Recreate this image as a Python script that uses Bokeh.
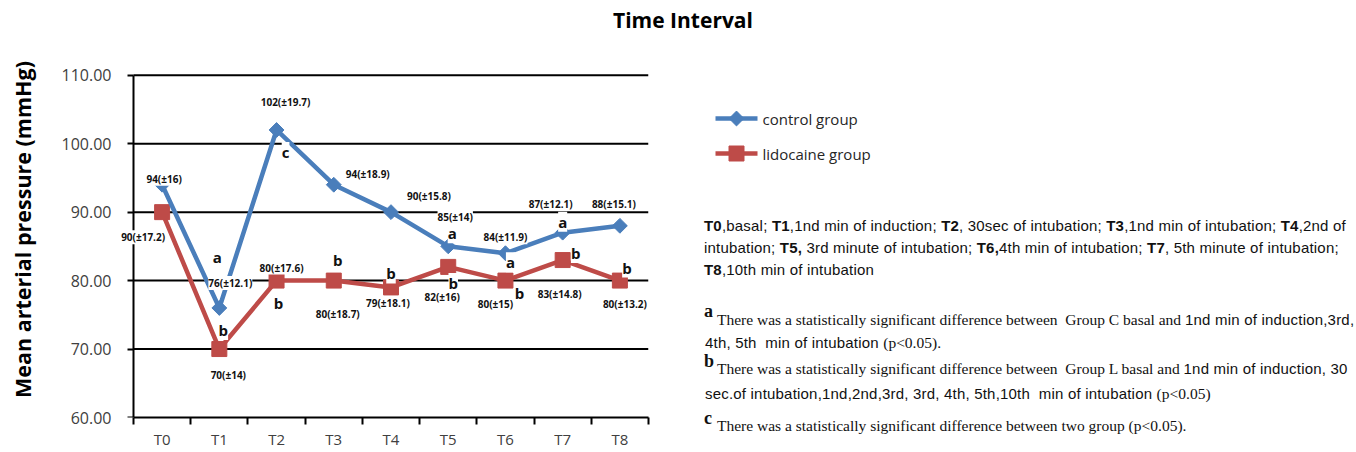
import math
from bokeh.plotting import figure
from bokeh.models import (Range1d, FixedTicker, NumeralTickFormatter, ColumnDataSource, Div,
                          LabelSet, LinearAxis)
from bokeh.layouts import column, row
from bokeh.embed import file_html
from bokeh.resources import INLINE
from bokeh.core.properties import value

# ---------------- data ----------------
categories = ["T0", "T1", "T2", "T3", "T4", "T5", "T6", "T7", "T8"]
control_mean = [94, 76, 102, 94, 90, 85, 84, 87, 88]
control_sd = [16, 12.1, 19.7, 18.9, 15.8, 14, 11.9, 12.1, 15.1]
lido_mean = [90, 70, 80, 80, 79, 82, 80, 83, 80]
lido_sd = [17.2, 14, 17.6, 18.7, 18.1, 16, 15, 14.8, 13.2]
control_sig = ["", "a", "c", "", "", "a", "a", "a", ""]
lido_sig = ["", "b", "b", "b", "b", "b", "b", "b", "b"]
y_ticks = [60, 70, 80, 90, 100, 110]
series_names = ["control group", "lidocaine group"]
y_title = "Mean arterial pressure (mmHg)"

# ---------------- label placement (screen px offsets, +dy = downwards) ----------------
ctrl_lab_dx = [2, 11, 9, 34, 38, 7, 0, -12, -6]
ctrl_lab_dy = [-6, -25, -28, -11, -16, -29, -16, -29, -22]
ctrl_sig_dx = [0, -2, 9, 0, 0, 4, 5, 0, 0]
ctrl_sig_dy = [0, -51, 22, 0, 0, -13, 9, -11, 0]
lido_lab_dx = [-19, 9, 5, 4, -3, -6, -10, -3, 5]
lido_lab_dy = [25, 26, -13, 33, 16, 30, 23, 34, 23]
lido_sig_dx = [0, 4, 2, 4, 0, 5, 14, 13, 7]
lido_sig_dy = [0, -19, 22, -21, -14, 16, 12, -7, -13]

BLUE = "#4A7EBB"
RED = "#BE4B48"
FONT = "Open Sans"

n = len(categories)
xs = [i + 0.5 for i in range(n)]

TITLE_W = 40
# main plot: frame starts a little left of the y axis so data labels may overlap it
PX_PER_CAT = (648 - 133) / n
x_start = -(133 - 118) / PX_PER_CAT

p = figure(width=690 - TITLE_W, height=419, x_range=Range1d(x_start, n),
           y_range=Range1d(y_ticks[0], y_ticks[-1] + 0.25), output_backend="svg",
           toolbar_location=None, min_border_left=118 - TITLE_W, min_border_right=42,
           min_border_top=41, min_border_bottom=10)
p.frame_align = False
p.outline_line_color = None
p.background_fill_color = "white"
p.border_fill_color = "white"
p.grid.visible = False

# horizontal grid lines between the axes
p.segment(x0=0, x1=n, y0=y_ticks[1:], y1=y_ticks[1:], line_color="black", line_width=2)

# y tick labels (left panel, no line / ticks)
p.yaxis.ticker = FixedTicker(ticks=y_ticks)
p.yaxis.formatter = NumeralTickFormatter(format="0.00")
p.yaxis.axis_line_color = None
p.yaxis.major_tick_line_color = None
p.yaxis.minor_tick_line_color = None
p.yaxis.major_label_text_font = FONT
p.yaxis.major_label_text_font_size = "16px"
p.yaxis.major_label_text_color = "#404040"
p.yaxis.major_label_standoff = 1

# y axis line + ticks drawn exactly at x = 0 (ticks pointing left)
yline = LinearAxis(fixed_location=0, bounds=(y_ticks[0], y_ticks[-1]),
                   ticker=FixedTicker(ticks=y_ticks),
                   major_label_overrides={t: "" for t in y_ticks},
                   axis_line_color="black", axis_line_width=2,
                   major_tick_in=6, major_tick_out=0, major_tick_line_width=2,
                   minor_tick_line_color=None, major_label_standoff=0)
p.add_layout(yline, "right")

# x axis
p.xaxis.bounds = (0, n)
p.xaxis.ticker = FixedTicker(ticks=xs, minor_ticks=list(range(n + 1)))
p.xaxis.major_label_overrides = {x: c for x, c in zip(xs, categories)}
p.xaxis.axis_line_color = "black"
p.xaxis.axis_line_width = 2
p.xaxis.major_tick_line_color = None
p.xaxis.major_tick_out = 0
p.xaxis.major_tick_in = 0
p.xaxis.minor_tick_line_color = "black"
p.xaxis.minor_tick_line_width = 2
p.xaxis.minor_tick_out = 7
p.xaxis.minor_tick_in = 0
p.xaxis.major_label_text_font = FONT
p.xaxis.major_label_text_font_size = "15px"
p.xaxis.major_label_text_color = "#404040"
p.xaxis.major_label_standoff = 4

# series
src_c = ColumnDataSource(dict(x=xs, y=control_mean))
src_l = ColumnDataSource(dict(x=xs, y=lido_mean))
p.line("x", "y", source=src_l, line_color=RED, line_width=4.5)
p.scatter("x", "y", source=src_l, marker="square", size=15, fill_color=RED, line_color=RED)
p.line("x", "y", source=src_c, line_color=BLUE, line_width=4.5)
p.scatter("x", "y", source=src_c, marker="square", angle=math.pi / 4, size=10.5,
          fill_color=BLUE, line_color=BLUE)

def fmt(m, s):
    return f"{m}({chr(177)}{s:g})"

def make_labels(means, texts, dx, dy, size):
    idx = [i for i, t in enumerate(texts) if t]
    src = ColumnDataSource(dict(x=[xs[i] for i in idx], y=[means[i] for i in idx],
                                t=[texts[i] for i in idx], dx=[dx[i] for i in idx],
                                dy=[-dy[i] for i in idx]))
    return LabelSet(x="x", y="y", text="t", source=src, x_offset="dx", y_offset="dy",
                    text_font=value(FONT), text_font_style="bold", text_font_size=size,
                    text_color="#111111", text_align="center", text_baseline="middle",
                    background_fill_color="white")

p.add_layout(make_labels(control_mean, [fmt(m, s) for m, s in zip(control_mean, control_sd)],
                         ctrl_lab_dx, ctrl_lab_dy, "10px"))
p.add_layout(make_labels(lido_mean, [fmt(m, s) for m, s in zip(lido_mean, lido_sd)],
                         lido_lab_dx, lido_lab_dy, "10px"))
p.add_layout(make_labels(control_mean, control_sig, ctrl_sig_dx, ctrl_sig_dy, "15px"))
p.add_layout(make_labels(lido_mean, lido_sig, lido_sig_dx, lido_sig_dy, "15px"))

# ---------------- y axis title panel ----------------
pt = figure(width=TITLE_W, height=419, x_range=Range1d(0, TITLE_W), y_range=Range1d(0, 419),
            output_backend="svg", toolbar_location=None, min_border=0,
            x_axis_location=None, y_axis_location=None)
pt.frame_align = False
pt.grid.visible = False
pt.outline_line_color = None
pt.text(x=[22], y=[222], text=[y_title], angle=math.pi / 2, text_font=value(FONT),
        text_font_style="bold", text_font_size="21.5px", text_color="#000000",
        text_align="center", text_baseline="middle")

# ---------------- legend panel ----------------
p2 = figure(width=650, height=183, x_range=Range1d(0, 650), y_range=Range1d(183, 0),
            output_backend="svg", toolbar_location=None, min_border=0,
            x_axis_location=None, y_axis_location=None)
p2.frame_align = False
p2.grid.visible = False
p2.outline_line_color = None
leg_y = [86, 121]
p2.segment(x0=25, x1=67, y0=leg_y[0], y1=leg_y[0], line_color=BLUE, line_width=4.5)
p2.scatter(x=[46], y=[leg_y[0]], marker="square", angle=math.pi / 4, size=10.5,
           fill_color=BLUE, line_color=BLUE)
p2.segment(x0=25, x1=67, y0=leg_y[1], y1=leg_y[1], line_color=RED, line_width=4.5)
p2.scatter(x=[46], y=[leg_y[1]], marker="square", size=15, fill_color=RED, line_color=RED)
p2.text(x=[72, 72], y=leg_y, text=series_names, text_font=value(FONT),
        text_font_size="15px", text_color="#262626", text_baseline="middle")

# ---------------- notes ----------------
SANS = "font-family:'Liberation Sans',Arial,sans-serif;font-size:15px;letter-spacing:0.2px;"
SERIF = "font-family:'Liberation Serif','Times New Roman',serif;font-size:15.5px;"
SUP = "font-family:'Liberation Serif',serif;font-size:18px;font-weight:bold;"
ORIGIN_X, ORIGIN_Y = 690, 215

def seg(x, yc, body):
    return (f'<div style="position:absolute;left:{x - ORIGIN_X}px;top:{yc - 9 - ORIGIN_Y}px;'
            f'white-space:nowrap;line-height:18px;color:#111;">{body}</div>')

def s(t):
    return f'<span style="{SANS}">{t}</span>'

def r(t):
    return f'<span style="{SERIF}">{t}</span>'

def sup(t):
    return f'<span style="{SUP}">{t}</span>'

segments = [
    seg(704, 226, s("<b>T0</b>,basal; <b>T1</b>,1nd min of induction; <b>T2</b>, 30sec of intubation; "
                    "<b>T3</b>,1nd min of intubation; <b>T4</b>,2nd of")),
    seg(704, 248, s("intubation; <b>T5,</b> 3rd minute of intubation; <b>T6,</b>4th min of intubation; "
                    "<b>T7</b>, 5th minute of intubation;")),
    seg(704, 270, s("<b>T8</b>,10th min of intubation")),
    seg(704, 311, sup("a")),
    seg(717, 320, r("There was a statistically significant difference between&nbsp; Group C basal and ")
        + s("1nd min of induction,3rd,")),
    seg(705, 343, s("4th, 5th&nbsp; min of intubation ") + r("(p&lt;0.05).")),
    seg(704, 361, sup("b")),
    seg(717, 369, r("There was a statistically significant difference between&nbsp; Group L basal and ")
        + s("1nd min of induction, 30")),
    seg(705, 394, s("sec.of intubation,1nd,2nd,3rd, 3rd, 4th, 5th,10th&nbsp; min of intubation ")
        + r("(p&lt;0.05)")),
    seg(704, 418, sup("c")),
    seg(717, 426, r("There was a statistically significant difference between two group (p&lt;0.05).")),
]
notes_html = '<div style="position:relative;width:664px;height:235px;">' + "".join(segments) + '</div>'

notes = Div(text=notes_html, width=664, height=235, margin=0)
title = Div(text=f'<div style="width:1340px;text-align:center;font-family:\'{FONT}\';'
                 f'font-weight:bold;font-size:21px;line-height:24px;padding-top:8px;padding-left:26px;'
                 f'color:#000;">Time Interval</div>',
            width=1354, height=32, margin=0)

layout = column(title, row(pt, p, column(p2, notes, spacing=0), spacing=0), spacing=0)

open("out.html", "w").write(file_html(layout, INLINE))
